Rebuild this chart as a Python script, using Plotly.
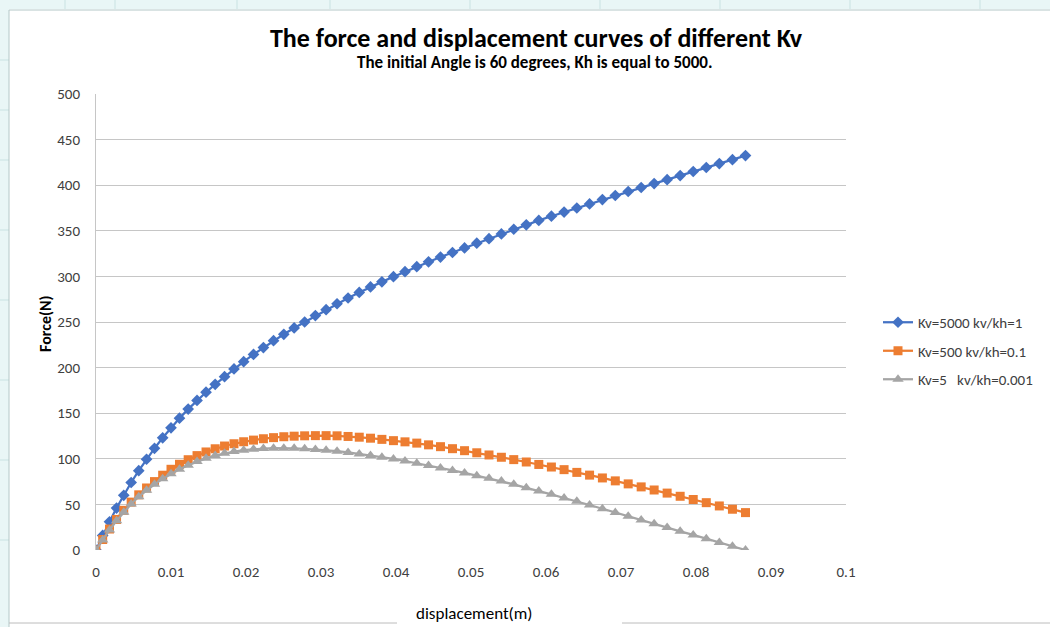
import plotly.graph_objects as go

# ---------------- data ----------------
displacement = [0, 0.00089, 0.00180, 0.00274, 0.00370, 0.00469, 0.00570, 0.00674, 0.00780, 0.00889,
                0.01000, 0.01113, 0.01229, 0.01347, 0.01467, 0.01589, 0.01714, 0.01840, 0.01969, 0.02100,
                0.02232, 0.02367, 0.02504, 0.02642, 0.02782, 0.02925, 0.03068, 0.03214, 0.03361, 0.03510,
                0.03660, 0.03812, 0.03966, 0.04120, 0.04277, 0.04434, 0.04593, 0.04753, 0.04914, 0.05077,
                0.05240, 0.05405, 0.05570, 0.05737, 0.05904, 0.06072, 0.06241, 0.06411, 0.06581, 0.06752,
                0.06924, 0.07096, 0.07269, 0.07442, 0.07615, 0.07789, 0.07963, 0.08137, 0.08311, 0.08486,
                0.08660]

force_kv5000 = [0, 16, 31, 46, 60, 74, 87, 99.5, 111.5, 123,
                134, 144.5, 154.5, 164, 173, 181.7, 190, 198.5, 206.5, 214.5,
                222, 229.5, 236.5, 243.5, 250, 257, 263.5, 270, 276.3, 282.4,
                288.5, 294, 299.7, 305.2, 310.7, 316, 321.2, 326.2, 331.2, 336.4,
                341.4, 346.6, 351.7, 356.6, 361.4, 366, 370.5, 375, 379.5, 384.2,
                388.7, 393.1, 397.5, 401.8, 406.1, 410.5, 415, 419.4, 423.7, 428, 432.5]

force_kv500 = [0, 11.5, 23, 33.5, 43.5, 52.5, 60.5, 68, 75, 82,
               88.5, 94, 99, 103.5, 107.5, 111, 114, 116.5, 118.7, 120.5,
               122, 123.2, 124.2, 124.8, 125.2, 125.4, 125.4, 125.2, 124.5, 123.7,
               122.6, 121.3, 119.9, 118.6, 117.2, 115.3, 113.3, 111.1, 108.9, 106.6,
               104.2, 101.7, 99.1, 96.5, 93.8, 91, 88.1, 85.1, 82.1, 79,
               75.8, 72.5, 69.2, 65.8, 62.4, 58.9, 55.4, 51.9, 48.3, 44.7, 41]

force_kv5 = [0, 11, 22, 32, 41.5, 50.5, 58.5, 65.5, 72, 78,
             83.5, 88.5, 93, 97, 100.5, 103.5, 106, 107.9, 109.4, 110.5,
             111.2, 111.6, 111.7, 111.5, 111, 110.3, 109.4, 108.3, 107, 105.4,
             103.7, 101.8, 99.8, 97.6, 95.2, 92.6, 90, 87.3, 84.5, 81.5,
             78.7, 75.7, 72, 68.2, 64.8, 61, 57, 53.5, 49.3, 45.2,
             41, 37, 33, 28.7, 24.7, 20.5, 16.5, 12.3, 8.2, 4, 0]

series_names = ["Kv=5000 kv/kh=1", "Kv=500 kv/kh=0.1", "Kv=5   kv/kh=0.001"]
x_ticks = [0, 0.01, 0.02, 0.03, 0.04, 0.05, 0.06, 0.07, 0.08, 0.09, 0.1]
x_tick_labels = ["0", "0.01", "0.02", "0.03", "0.04", "0.05", "0.06", "0.07", "0.08", "0.09", "0.1"]
y_ticks = [0, 50, 100, 150, 200, 250, 300, 350, 400, 450, 500]

# ---------------- layout geometry (pixels) ----------------
W, H = 1050, 627
PL, PR, PT, PB = 96, 846, 94, 550   # plot area edges


def px(x):
    return (x - PL) / (PR - PL)


def py(y):
    return (PB - y) / (PB - PT)


FONT = "Calibri, Carlito, Lato, 'Liberation Sans', sans-serif"

fig = go.Figure()

styles = [
    dict(color="#4472C4", symbol="diamond", size=9),
    dict(color="#ED7D31", symbol="square", size=9),
    dict(color="#A5A5A5", symbol="triangle-up", size=10),
]
ys = [force_kv5000, force_kv500, force_kv5]
for name, yv, st in zip(series_names, ys, styles):
    fig.add_trace(go.Scatter(
        x=displacement, y=yv, name=name, mode="lines+markers",
        line=dict(color=st["color"], width=2.25),
        marker=dict(color=st["color"], symbol=st["symbol"], size=st["size"], line=dict(width=0)),
        legendgroup=name,
    ))

shapes = []
# spreadsheet strips (left and top)
shapes.append(dict(type="rect", xref="paper", yref="paper", x0=px(0), x1=px(9), y0=py(H), y1=py(0),
                   fillcolor="#e9f6f6", line=dict(width=0), layer="below"))
shapes.append(dict(type="rect", xref="paper", yref="paper", x0=px(0), x1=px(W), y0=py(9), y1=py(0),
                   fillcolor="#e9f6f6", line=dict(width=0), layer="below"))
for gx in [65, 115, 237, 330, 470, 600, 720, 850, 980]:
    shapes.append(dict(type="line", xref="paper", yref="paper", x0=px(gx), x1=px(gx), y0=py(0), y1=py(9),
                       line=dict(color="#c9e2e2", width=1)))
for gy in [60, 110, 160, 230, 300, 380, 460, 540]:
    shapes.append(dict(type="line", xref="paper", yref="paper", x0=px(0), x1=px(9), y0=py(gy), y1=py(gy),
                       line=dict(color="#c9e2e2", width=1)))
# chart frame
shapes.append(dict(type="line", xref="paper", yref="paper", x0=px(9), x1=px(9), y0=py(10), y1=py(H),
                   line=dict(color="#b4c8c8", width=1)))
shapes.append(dict(type="line", xref="paper", yref="paper", x0=px(9), x1=px(W), y0=py(10), y1=py(10),
                   line=dict(color="#b4c8c8", width=1)))
shapes.append(dict(type="line", xref="paper", yref="paper", x0=px(9), x1=px(397), y0=py(623), y1=py(623),
                   line=dict(color="#bcbcbc", width=1)))
shapes.append(dict(type="line", xref="paper", yref="paper", x0=px(622), x1=px(W), y0=py(623), y1=py(623),
                   line=dict(color="#bcbcbc", width=1)))

annotations = [
    dict(text="<b>The force and displacement curves of different Kv</b>", xref="paper", yref="paper",
         x=px(536), y=py(38), showarrow=False, xanchor="center", yanchor="middle",
         font=dict(family=FONT, size=26, color="#000000")),
    dict(text="<b>The initial Angle is 60 degrees, Kh is equal to 5000.</b>", xref="paper", yref="paper",
         x=px(534), y=py(62), showarrow=False, xanchor="center", yanchor="middle",
         font=dict(family=FONT, size=17, color="#000000")),
    dict(text="<b>Force(N)</b>", xref="paper", yref="paper", x=px(45), y=py(324), textangle=-90,
         showarrow=False, xanchor="center", yanchor="middle",
         font=dict(family=FONT, size=16, color="#000000")),
    dict(text="displacement(m)", xref="paper", yref="paper", x=px(474), y=py(613),
         showarrow=False, xanchor="center", yanchor="middle",
         font=dict(family=FONT, size=17, color="#000000")),
]

fig.update_layout(
    width=W, height=H,
    margin=dict(l=PL, r=W - PR, t=PT, b=H - PB, pad=0),
    paper_bgcolor="#ffffff", plot_bgcolor="#ffffff",
    shapes=shapes, annotations=annotations,
    showlegend=True,
    legend=dict(x=px(878), y=py(306), xanchor="left", yanchor="top",
                font=dict(family=FONT, size=15, color="#404040"),
                bgcolor="rgba(0,0,0,0)", tracegroupgap=6, itemwidth=30),
    xaxis=dict(range=[0, 0.1], tickvals=x_ticks, ticktext=x_tick_labels,
               showgrid=False, zeroline=False, showline=False, ticks="",
               ticklabelstandoff=11,
               tickfont=dict(family=FONT, size=15, color="#404040")),
    yaxis=dict(range=[0, 500], tickvals=y_ticks, showgrid=True, gridcolor="#c6c6c6", gridwidth=1,
               zeroline=False, showline=True, linecolor="#c6c6c6", linewidth=1, ticks="",
               ticklabelstandoff=12,
               tickfont=dict(family=FONT, size=15, color="#404040")),
)

fig.write_html("out.html")
